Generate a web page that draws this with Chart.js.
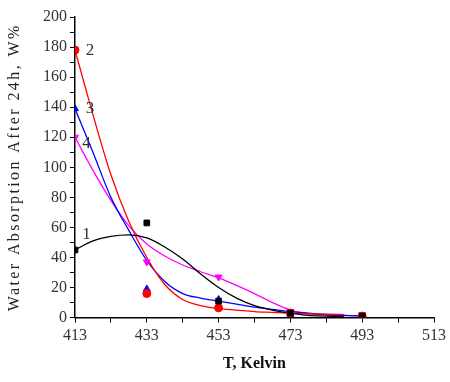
<!DOCTYPE html>
<html>
<head>
<meta charset="utf-8">
<script src="https://cdn.jsdelivr.net/npm/chart.js@4.4.1/dist/chart.umd.min.js"></script>
<style>
html,body{margin:0;padding:0;background:#fff;}
#wrap{width:450px;height:382px;}
</style>
</head>
<body>
<div id="wrap"><canvas id="c" width="450" height="382"></canvas></div>
<script>
// Measured temperatures (K)
const temps = [413, 433, 453, 473, 493];
// Measured water absorption (%) for samples 1..4
const s1 = [45, 63, 11, 3, 1];
const s2 = [178, 16, 6.5, 3, 1];
const s3 = [139, 19, 12, 2, 1];
const s4 = [120, 37, 27, 4, 2];

// Fitted curves
const fitT  = [413, 418, 423, 428, 433, 438, 443, 448, 453, 458, 463, 468, 473, 478, 483, 488, 493];
const fit1 = [45, 51, 54, 55, 53, 47, 39, 29, 20, 13, 8, 5, 3, 1.5, 1, 0.5, null];
const fit2 = [178, 135, 95, 64, 40, 22, 12, 8, 6, 5, 4, 3.5, 3, 2.5, 2.3, 2, null];
const fit3 = [139, 110, 80, 58, 38, 24, 16, 13, 11, 9, 7, 5.5, 4, 3, 2, 1.5, 1];
const fit4 = [120, 98, 78, 61, 49, 41, 35, 30.5, 26.5, 21.5, 16, 10, 5, 2.7, 1.8, 1.3, 1.3];

// Curve labels: [text, T, value]
const curveLabels = [["1", 415, 55], ["2", 416, 178], ["3", 416, 139], ["4", 415, 116]];

const xTicks = [413, 423, 433, 443, 453, 463, 473, 483, 493, 503, 513];
const xMajor = [413, 433, 453, 473, 493, 513];
const yTicks = [0,10,20,30,40,50,60,70,80,90,100,110,120,130,140,150,160,170,180,190,200];
const yTitle = 'Water Absorption After 24h, W%';

function pts(xs, ys){ const out=[]; xs.forEach((x,i)=>{ if(ys[i]!==null) out.push({x:x,y:ys[i]}); }); return out; }

const fitDs = (data, color) => ({type:'line', data:pts(fitT,data), borderColor:color, borderWidth:1.3, pointRadius:0, tension:0.4, cubicInterpolationMode:'monotone', fill:false, order:2});
const markDs = (data, color, style, rot) => ({type:'scatter', data:pts(temps,data), backgroundColor:color, borderColor:color, pointStyle:style, rotation:rot||0, pointRadius:4, order:1});

const labelPlugin = {
  id:'curveLabels',
  afterDatasetsDraw(chart){
    const ctx = chart.ctx, xs = chart.scales.x, ys = chart.scales.y;
    ctx.save();
    ctx.font = '17px "Liberation Serif"';
    ctx.fillStyle = '#333';
    ctx.textAlign = 'left';
    ctx.textBaseline = 'middle';
    curveLabels.forEach(l=>{ ctx.fillText(l[0], xs.getPixelForValue(l[1]), ys.getPixelForValue(l[2])); });
    // y axis title with wide letter spacing
    const a = chart.chartArea;
    ctx.translate(15, (a.top + a.bottom)/2);
    ctx.rotate(-Math.PI/2);
    ctx.font = '16px "Liberation Serif"';
    ctx.fillStyle = '#222';
    ctx.textAlign = 'center';
    if ('letterSpacing' in ctx) ctx.letterSpacing = '2.4px';
    ctx.fillText(yTitle, 0, 0);
    ctx.restore();
  }
};

new Chart(document.getElementById('c'), {
  data:{ datasets:[
    fitDs(fit1,'#000000'), fitDs(fit2,'#ff0000'), fitDs(fit3,'#0000ff'), fitDs(fit4,'#ff00ff'),
    markDs(s1,'#000000','rect'), markDs(s2,'#ff0000','circle'), markDs(s3,'#0000ff','triangle'), markDs(s4,'#ff00ff','triangle',180)
  ]},
  options:{
    responsive:false, animation:false, devicePixelRatio:1,
    layout:{padding:{left:40,right:0,top:17,bottom:9}},
    plugins:{legend:{display:false}, tooltip:{enabled:false}},
    scales:{
      x:{type:'linear', min:413, max:513,
        afterBuildTicks:(s)=>{ s.ticks = xTicks.map(v=>({value:v})); },
        border:{display:true,color:'#000',width:1.5},
        grid:{display:true, drawOnChartArea:false, drawTicks:true, tickLength:5, color:'#000', tickColor:'#000'},
        ticks:{autoSkip:false, maxRotation:0, color:'#333', font:{family:'Liberation Serif', size:16}, padding:4,
          callback:(v)=> xMajor.includes(v) ? String(v) : ''},
        title:{display:true, text:'T, Kelvin', color:'#111', font:{family:'Liberation Serif', size:16, weight:'bold'}, padding:{top:4,bottom:0}}
      },
      y:{type:'linear', min:0, max:200,
        afterBuildTicks:(s)=>{ s.ticks = yTicks.map(v=>({value:v})); },
        border:{display:true,color:'#000',width:1.5},
        grid:{display:true, drawOnChartArea:false, drawTicks:true, tickLength:5, color:'#000', tickColor:'#000'},
        ticks:{autoSkip:false, color:'#333', font:{family:'Liberation Serif', size:16}, padding:3,
          callback:(v)=> v%20===0 ? String(v) : ''},
        title:{display:false}
      }
    }
  },
  plugins:[labelPlugin]
});
</script>
</body>
</html>
